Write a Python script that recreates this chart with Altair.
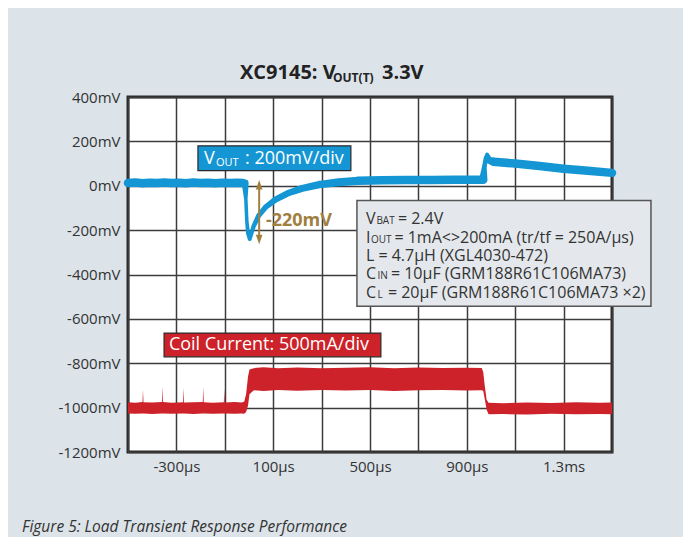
import altair as alt
import pandas as pd

# ---------------- data ----------------
# VOUT trace (time in µs, value in mV on the common mV axis, trace width)
vout_t = [-500, -470, -440, -410, -380, -350, -320, -290, -260, -230, -200, -170, -140,
          -110, -80, -50, -25, -16, -13, -9, -4, 3, 10, 20, 40, 70, 110, 160, 220, 290,
          370, 450, 550, 650, 750, 850, 940, 968, 972, 978, 984, 992, 1010, 1100, 1200,
          1300, 1400, 1500]
vout_v = [12, 15, 11, 14, 12, 15, 12, 14, 11, 15, 12, 14, 11,
          14, 12, 14, 12, 12, -60, -160, -215, -240, -215, -180, -135, -95, -62, -34, -12, 5,
          16, 22, 25, 26, 26, 27, 27, 27, 80, 125, 140, 115, 108, 100, 89,
          77, 68, 58]
vout_w = [8.5, 8.5, 8.5, 8.5, 8.5, 8.5, 8.5, 8.5, 8.5, 8.5, 8.5, 8.5, 8.5,
          8.5, 8.5, 8.5, 8.5, 7, 3.5, 3.5, 4, 4, 4, 4.5, 5, 5.5, 6, 6.5, 7, 7.5,
          8, 8.5, 8.5, 8.5, 8.5, 8.5, 8.5, 8.5, 5, 4, 4, 7, 8.5, 8.5, 8.5,
          8.5, 8.5, 8.5]

# Coil current trace envelope (upper / lower edge of the band)
coil_t = [-500, -470, -440, -438, -436, -400, -359, -357, -355, -320, -273, -271, -269,
          -230, -191, -189, -187, -150, -104, -102, -100, -60, -30, -20, -12, -4, 2, 20,
          60, 120, 200, 300, 400, 500, 600, 700, 800, 900, 962, 968, 974, 982, 990, 1050,
          1150, 1250, 1350, 1450, 1500]
coil_hi = [-976, -978, -975, -918, -976, -977, -975, -904, -975, -978, -976, -910, -977,
           -976, -975, -906, -976, -978, -976, -916, -977, -975, -977, -974, -940, -860, -828, -822,
           -818, -822, -819, -823, -820, -818, -822, -819, -821, -820, -821, -840, -900, -965, -978, -980,
           -977, -979, -976, -978, -977]
coil_lo = [-1026, -1028, -1027, -1027, -1027, -1029, -1026, -1026, -1026, -1028, -1027, -1027, -1027,
           -1029, -1026, -1026, -1026, -1028, -1027, -1027, -1027, -1028, -1027, -1028, -1020, -990, -940, -922,
           -925, -921, -924, -920, -923, -921, -925, -922, -920, -923, -922, -925, -960, -1010, -1030, -1029,
           -1031, -1028, -1030, -1029, -1030]

x_grid = list(range(-500, 1501, 200))
y_grid = list(range(-1200, 401, 200))
x_labels = {-300: "-300µs", 100: "100µs", 500: "500µs", 900: "900µs", 1300: "1.3ms"}

# ---------------- styling ----------------
BG = "#dce3e9"
BLUE = "#1496d4"
RED = "#cd2229"
GOLD = "#a0803f"
TXT = "#333333"
FONT = "Open Sans"

label_expr = " : ".join(
    [f"datum.value == {k} ? '{v}'" for k, v in x_labels.items()]) + " : ''"

x_scale = alt.Scale(domain=[-500, 1500], nice=False, zero=False)
y_scale = alt.Scale(domain=[-1200, 400], nice=False, zero=False)
x_axis = alt.Axis(values=x_grid, labelExpr=label_expr, title=None, grid=True, ticks=False,
                  domain=False, labelPadding=7, labelFontSize=15, labelFont=FONT,
                  labelColor=TXT, gridColor="#3c3c3c", gridWidth=1.5, labelOverlap=False,
                  labelBound=False, labelFlush=False)
y_axis = alt.Axis(values=y_grid, labelExpr="datum.value + 'mV'", title=None, grid=True,
                  ticks=False, domain=False, labelPadding=8, labelFontSize=15, labelFont=FONT,
                  labelColor=TXT, gridColor="#3c3c3c", gridWidth=1.5, labelOverlap=False,
                  labelBound=False, labelFlush=False)


def X(f="t"):
    return alt.X(f"{f}:Q", scale=x_scale, axis=x_axis)


def Y(f="v"):
    return alt.Y(f"{f}:Q", scale=y_scale, axis=y_axis)


def note(t, v, s, size, color, weight="normal", baseline="alphabetic", align="left", dx=0):
    df = pd.DataFrame({"t": [t], "v": [v], "s": [s]})
    return alt.Chart(df).mark_text(align=align, baseline=baseline, font=FONT, fontSize=size,
                                   fontWeight=weight, color=color, dx=dx).encode(
        x=X(), y=Y(), text="s:N")


def page_text(px, py, s, size, color, weight="normal", style="normal"):
    df = pd.DataFrame({"s": [s]})
    return alt.Chart(df).mark_text(align="left", baseline="alphabetic", font=FONT, fontSize=size,
                                   fontWeight=weight, fontStyle=style, color=color).encode(
        x=alt.value(px), y=alt.value(py), text="s:N")


def box(t1, t2, v1, v2, fill, stroke, sw):
    df = pd.DataFrame({"t": [t1], "t2": [t2], "v": [v1], "v2": [v2]})
    return alt.Chart(df).mark_rect(fill=fill, stroke=stroke, strokeWidth=sw).encode(
        x=X(), x2="t2:Q", y=Y(), y2="v2:Q")


vout_df = pd.DataFrame({"t": vout_t, "v": vout_v, "w": vout_w})
coil_df = pd.DataFrame({"t": coil_t, "v": coil_hi, "v2": coil_lo})

coil = alt.Chart(coil_df).mark_area(color=RED, opacity=1).encode(x=X(), y=Y(), y2="v2:Q")
vout = alt.Chart(vout_df).mark_trail(color=BLUE).encode(
    x=X(), y=Y(), size=alt.Size("w:Q", scale=None, legend=None))

# -220mV arrow
arrow_df = pd.DataFrame({"t": [42], "v": [5], "v2": [-242]})
arrow = alt.Chart(arrow_df).mark_rule(color=GOLD, strokeWidth=2).encode(x=X(), y=Y(), y2="v2:Q")
head_up = alt.Chart(pd.DataFrame({"t": [42], "v": [5]})).mark_point(
    shape="M0,-1L0.7,1L-0.7,1Z", filled=True, size=90, color=GOLD, opacity=1).encode(x=X(), y=Y())
head_dn = alt.Chart(pd.DataFrame({"t": [42], "v": [-242]})).mark_point(
    shape="M0,1L0.7,-1L-0.7,-1Z", filled=True, size=90, color=GOLD, opacity=1).encode(x=X(), y=Y())

CX = 483  # left edge of the conditions text (µs)
layers = [
    coil, vout, arrow, head_up, head_dn,
    note(70, -157, "-220mV", 18, GOLD, weight="bold", baseline="middle"),
    # VOUT label box
    box(-211, 421, 180, 68, BLUE, "#2b2b2b", 1.2),
    note(-186, 99, "V", 18, "white"),
    note(-186, 90, "OUT", 11, "white", dx=12),
    note(-186, 99, ": 200mV/div", 18, "white", dx=41),
    # coil label box
    box(-351, 545, -664, -771, RED, "#2b2b2b", 1.2),
    note(-331, -717, "Coil Current: 500mA/div", 18, "white", baseline="middle"),
    # conditions box
    box(446, 1661, -67, -543, "#e4e8ec", "#555555", 1.5),
    note(CX, -172, "V", 16, TXT), note(CX, -172, "BAT", 10, TXT, dx=10.5),
    note(CX, -172, "= 2.4V", 16, TXT, dx=32),
    note(CX, -256, "I", 16, TXT), note(CX, -256, "OUT", 10, TXT, dx=5),
    note(CX, -256, "= 1mA<>200mA (tr/tf = 250A/µs)", 16, TXT, dx=28.5),
    note(CX, -338, "L = 4.7µH (XGL4030-472)", 16, TXT),
    note(CX, -421, "C", 16, TXT), note(CX, -421, "IN", 10, TXT, dx=11.5),
    note(CX, -421, "= 10µF (GRM188R61C106MA73)", 16, TXT, dx=25),
    note(CX, -504, "C", 16, TXT), note(CX, -504, "L", 10, TXT, dx=11.5),
    note(CX, -504, "= 20µF (GRM188R61C106MA73 ×2)", 16, TXT, dx=22),
    # title and caption (outside the plot)
    page_text(112, -18, "XC9145: V", 20, "#222222", weight="bold"),
    page_text(205, -15, "OUT(T)", 12, "#222222", weight="bold"),
    page_text(254, -18, "3.3V", 20, "#222222", weight="bold"),
    page_text(-106, 435, "Figure 5: Load Transient Response Performance", 15.5, TXT, style="italic"),
]

chart = alt.layer(*layers).properties(
    width=484, height=355,
    padding={"left": 120, "top": 89, "right": 71, "bottom": 85},
    autosize=alt.AutoSizeParams(type="none"),
    background=BG,
).configure_view(fill="white", stroke="#2a2a2a", strokeWidth=3)

chart.save("out.html", embed_options={"renderer": "svg", "actions": False})
